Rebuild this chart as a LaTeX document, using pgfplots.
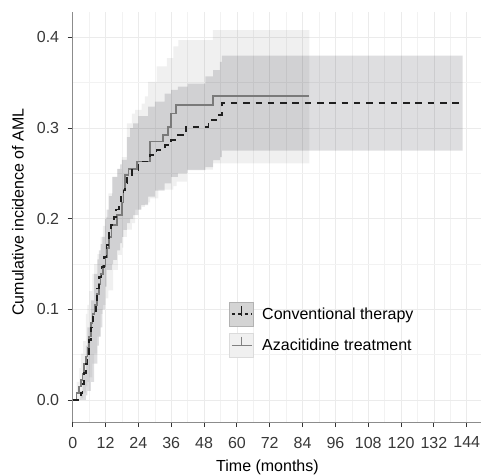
\documentclass[border=0pt]{standalone}
\usepackage{pgfplots}
\pgfplotsset{compat=1.18}
\usepgfplotslibrary{fillbetween}
\usepackage{fontspec}
\setmainfont{Liberation Sans}

% step curves: time (months), cumulative incidence
\pgfplotstableread{
t v
0 0
2.8 0.004
3.0 0.008
3.6 0.018
4.2 0.030
4.8 0.040
5.4 0.051
6.0 0.066
6.6 0.080
7.4 0.092
8.4 0.110
9.0 0.123
9.6 0.136
10.5 0.147
11.4 0.158
12.3 0.171
13.2 0.184
14.1 0.193
15.0 0.202
15.9 0.210
16.8 0.217
17.7 0.224
18.6 0.231
19.2 0.239
19.8 0.246
21.6 0.2536
24.0 0.263
28.2 0.270
30.6 0.2757
33.6 0.281
36.0 0.287
38.4 0.292
41.4 0.3015
49.6 0.309
52.6 0.3146
54.5 0.3275
142.5 0.3275
}\conv
\pgfplotstableread{
t v
0 0
1.4 0.008
2.2 0.015
3.0 0.022
3.6 0.029
4.2 0.040
4.8 0.048
5.4 0.058
6.0 0.070
6.6 0.085
7.2 0.095
8.0 0.105
9.0 0.117
9.6 0.128
10.2 0.139
11.0 0.148
12.0 0.158
12.6 0.168
13.2 0.180
14.2 0.193
16.2 0.204
18.0 0.218
18.6 0.232
19.2 0.248
20.4 0.255
23.4 0.263
28.2 0.285
33.0 0.292
34.8 0.3015
36.0 0.316
37.8 0.3255
51.2 0.335
86.5 0.335
}\aza
% confidence bands
\pgfplotstableread{
t lo hi
0 0 0
2.8 0 0.010
3.6 0 0.030
4.8 0.005 0.060
5.4 0.010 0.080
6.6 0.020 0.110
7.8 0.040 0.139
9.0 0.060 0.155
9.6 0.070 0.165
10.2 0.080 0.172
10.8 0.100 0.180
11.8 0.125 0.200
12.4 0.1435 0.210
13.2 0.1435 0.225
14.4 0.150 0.246
14.8 0.1545 0.246
16.2 0.165 0.255
17.3 0.173 0.260
18.0 0.180 0.265
18.5 0.1876 0.265
19.8 0.195 0.290
21.0 0.200 0.300
22.1 0.204 0.305
24.0 0.210 0.313
25.0 0.215 0.313
27.6 0.2244 0.3236
30.0 0.231 0.329
33.6 0.239 0.338
36.0 0.246 0.342
38.4 0.250 0.3457
42.0 0.2536 0.349
48.5 0.257 0.357
51.3 0.2647 0.364
53.8 0.268 0.373
54.5 0.2752 0.380
142.5 0.2752 0.380
}\convband
\pgfplotstableread{
t lo hi
0 0 0
1.4 0 0.020
2.4 0 0.035
3.0 0.002 0.051
3.8 0.008 0.065
4.8 0.015 0.095
5.4 0.020 0.105
6.0 0.025 0.120
7.2 0.040 0.139
7.8 0.051 0.150
9.0 0.070 0.161
10.2 0.095 0.180
11.0 0.105 0.192
12.0 0.112 0.202
13.0 0.121 0.228
14.8 0.1435 0.246
16.5 0.160 0.255
18.0 0.168 0.268
18.5 0.180 0.268
19.8 0.188 0.305
21.6 0.195 0.316
22.8 0.210 0.320
25.2 0.213 0.327
26.4 0.216 0.335
27.6 0.218 0.351
28.3 0.2225 0.351
30.7 0.2225 0.368
31.3 0.232 0.368
34.4 0.232 0.377
36.8 0.236 0.390
38.0 0.241 0.390
38.6 0.241 0.397
41.7 0.254 0.397
51.2 0.261 0.408
86.5 0.261 0.408
}\azaband

\begin{document}
\begin{tikzpicture}
\begin{axis}[name=ax,
  width=408.3pt, height=410pt, scale only axis,
  font=\fontsize{16}{19}\selectfont,
  xmin=0, xmax=149.2, ymin=-0.0243, ymax=0.428,
  axis x line=bottom, axis y line=left,
  axis line style={-, black!45, line width=1pt},
  xtick={0,12,24,36,48,60,72,84,96,108,120,132,144},
  minor xtick={6,18,30,42,54,66,78,90,102,114,126,138,150},
  ytick={0,0.1,0.2,0.3,0.4},
  minor ytick={0.05,0.15,0.25,0.35},
  grid=both,
  major grid style={black!8, line width=0.7pt},
  minor grid style={black!5, line width=0.45pt},
  tick align=outside, major tick length=5pt, minor tick length=0pt,
  tick style={black!80, line width=0.9pt},
  /pgf/number format/assume math mode=true,
  y tick label style={/pgf/number format/fixed, /pgf/number format/fixed zerofill,
    /pgf/number format/precision=1, inner sep=0pt, xshift=-8.4pt, text=black!78},
  x tick label style={inner sep=0pt, yshift=-9.7pt, text=black!78},
  xlabel={Time (months)},
  ylabel={Cumulative incidence of AML},
  every axis x label/.style={at={(axis description cs:0.477,0)}, yshift=-45pt, anchor=center},
  every axis y label/.style={at={(axis description cs:0,0.512)}, xshift=-54.7pt, rotate=90, anchor=center},
  legend style={at={(axis cs:57.2,0.1085)}, anchor=north west, draw=none, fill=none,
    inner sep=0pt, row sep=6.5pt, legend cell align=left,
    /tikz/every odd column/.append style={column sep=6pt}},
]
\addplot[draw=none, const plot, name path=alo, forget plot] table[x=t, y=lo] {\azaband};
\addplot[draw=none, const plot, name path=ahi, forget plot] table[x=t, y=hi] {\azaband};
\addplot[fill=black, fill opacity=0.06, draw=none, forget plot] fill between[of=alo and ahi];
\addplot[draw=none, const plot, name path=clo, forget plot] table[x=t, y=lo] {\convband};
\addplot[draw=none, const plot, name path=chi, forget plot] table[x=t, y=hi] {\convband};
\addplot[fill=black!95!blue, fill opacity=0.13, draw=none, forget plot] fill between[of=clo and chi];
\addplot[const plot, black!52, line width=1.7pt, forget plot] table[x=t, y=v] {\aza};
\addplot[const plot, black!88, line width=1.7pt, dash pattern=on 6.5pt off 5.8pt, forget plot] table[x=t, y=v] {\conv};
\addlegendimage{legend image code/.code={
  \draw[draw=black!30, fill=black!17, line width=0.8pt] (0pt,-12pt) rectangle (24pt,12pt);
  \draw[black!88, line width=1.5pt, dash pattern=on 3.5pt off 3pt] (2pt,0pt) -- (22pt,0pt);
  \draw[black!88, line width=1.1pt] (12pt,8pt) -- (12pt,-2pt);}}
\addlegendentry{Conventional therapy}
\addlegendimage{legend image code/.code={
  \draw[draw=black!14, fill=black!6, line width=0.8pt] (0pt,-12pt) rectangle (24pt,12pt);
  \draw[black!50, line width=1.3pt] (2pt,0pt) -- (22pt,0pt);
  \draw[black!50, line width=1.1pt] (12pt,9pt) -- (12pt,0pt);}}
\addlegendentry{Azacitidine treatment}
\end{axis}
\pgfresetboundingbox
\path[use as bounding box] ([xshift=-72.7pt,yshift=-52pt]ax.south west) rectangle ([yshift=12pt]ax.north east);
\end{tikzpicture}
\end{document}
